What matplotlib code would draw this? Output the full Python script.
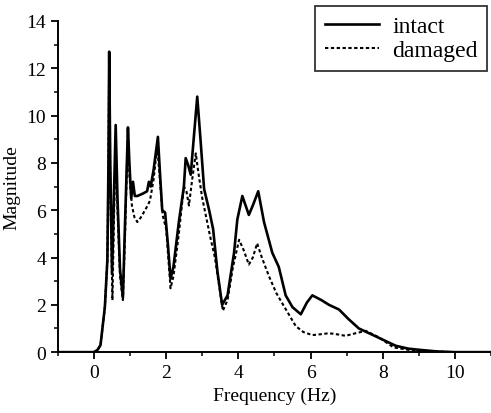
import matplotlib
matplotlib.use("Agg")
import matplotlib.pyplot as plt
from matplotlib.ticker import MultipleLocator

# spectra (Hz, magnitude)
freq_intact = [-1.0, 0.0, 0.1, 0.18, 0.3, 0.37, 0.4, 0.42, 0.45, 0.5, 0.55, 0.6, 0.65, 0.72, 0.8,
               0.86, 0.94, 0.98, 1.03, 1.08, 1.13, 1.2, 1.35, 1.47, 1.52, 1.57, 1.65, 1.77, 1.83,
               1.89, 1.97, 2.05, 2.12, 2.2, 2.35, 2.49, 2.54, 2.61, 2.68, 2.75, 2.86, 2.95, 3.05,
               3.19, 3.3, 3.42, 3.55, 3.7, 3.88, 3.97, 4.11, 4.2, 4.29, 4.4, 4.55, 4.71, 4.94,
               5.12, 5.31, 5.5, 5.73, 5.9, 6.05, 6.3, 6.51, 6.79, 7.05, 7.34, 7.9, 8.36, 8.7,
               9.0, 9.5, 10.0, 11.0]
mag_intact = [0.0, 0.0, 0.1, 0.3, 1.9, 3.9, 8.0, 12.7, 8.0, 3.3, 6.5, 9.6, 6.5, 3.5, 2.3,
              5.5, 9.5, 8.0, 6.5, 7.2, 6.6, 6.6, 6.7, 6.8, 7.2, 7.0, 7.7, 9.1, 7.5,
              6.0, 5.9, 4.5, 3.1, 3.6, 5.5, 7.0, 8.2, 7.9, 7.5, 8.8, 10.8, 9.0, 6.9,
              6.0, 5.2, 3.4, 2.0, 2.4, 4.2, 5.6, 6.6, 6.2, 5.8, 6.2, 6.8, 5.5, 4.2,
              3.6, 2.4, 1.9, 1.6, 2.1, 2.4, 2.2, 2.0, 1.8, 1.4, 1.0, 0.6, 0.27, 0.15,
              0.1, 0.03, 0.0, 0.0]

freq_damaged = [-1.0, 0.0, 0.1, 0.18, 0.3, 0.37, 0.4, 0.42, 0.45, 0.51, 0.55, 0.6, 0.65, 0.72, 0.8,
                0.86, 0.94, 0.98, 1.05, 1.12, 1.2, 1.3, 1.45, 1.55, 1.65, 1.75, 1.83, 1.9,
                2.0, 2.12, 2.2, 2.35, 2.49, 2.56, 2.63, 2.72, 2.82, 2.9, 3.0, 3.23, 3.35,
                3.57, 3.7, 3.85, 4.02, 4.15, 4.29, 4.4, 4.52, 4.65, 4.85, 5.05, 5.26, 5.59,
                5.8, 6.05, 6.3, 6.51, 6.75, 6.97, 7.25, 7.53, 7.9, 8.3, 8.7, 9.0, 9.5, 10.0, 11.0]
mag_damaged = [0.0, 0.0, 0.1, 0.3, 1.9, 3.9, 8.0, 12.6, 7.0, 2.2, 5.5, 8.5, 6.0, 3.2, 2.2,
               5.0, 9.4, 7.5, 6.2, 5.7, 5.5, 5.7, 6.1, 6.4, 7.3, 8.7, 7.2, 5.8,
               5.2, 2.7, 3.2, 5.0, 7.0, 6.8, 6.2, 7.3, 8.4, 7.5, 6.5, 4.8, 4.0,
               1.75, 2.2, 3.6, 4.75, 4.3, 3.7, 4.0, 4.6, 4.0, 3.2, 2.5, 1.95, 1.1,
               0.85, 0.72, 0.76, 0.8, 0.75, 0.69, 0.8, 0.9, 0.62, 0.2, 0.1, 0.05, 0.02, 0.0, 0.0]

plt.rcParams['font.family'] = ['Liberation Serif', 'DejaVu Serif']

fig = plt.figure(figsize=(4.91, 4.14), dpi=100)
ax = fig.add_axes([0.118, 0.147, 0.882, 0.80])

ax.plot(freq_intact, mag_intact, color='black', lw=1.9, label='intact')
ax.plot(freq_damaged, mag_damaged, color='black', lw=1.5, linestyle=(0, (1.6, 1.2)), label='damaged')

ax.set_xlim(-1, 11)
ax.set_ylim(0, 14)
ax.xaxis.set_minor_locator(MultipleLocator(1))
ax.yaxis.set_major_locator(MultipleLocator(2))
ax.yaxis.set_minor_locator(MultipleLocator(1))
ax.set_xticks([0, 2, 4, 6, 8, 10])
ax.spines['top'].set_visible(False)
ax.spines['right'].set_visible(False)
ax.spines['left'].set_linewidth(1.4)
ax.spines['bottom'].set_linewidth(1.4)
ax.tick_params(which='major', direction='out', length=5, width=1.3, labelsize=14)
ax.tick_params(which='minor', direction='out', length=3, width=1.1)

ax.set_xlabel('Frequency (Hz)', fontsize=14, labelpad=4)
ax.set_ylabel('Magnitude', fontsize=14, labelpad=4)

leg = ax.legend(loc='upper right', fontsize=17, frameon=True, fancybox=False,
                edgecolor='black', handlelength=2.3, handletextpad=0.55,
                bbox_to_anchor=(0.991, 1.045), borderaxespad=0.0,
                borderpad=0.4, labelspacing=0.12)
leg.get_frame().set_linewidth(1.3)

fig.savefig('out.png', dpi=100)
